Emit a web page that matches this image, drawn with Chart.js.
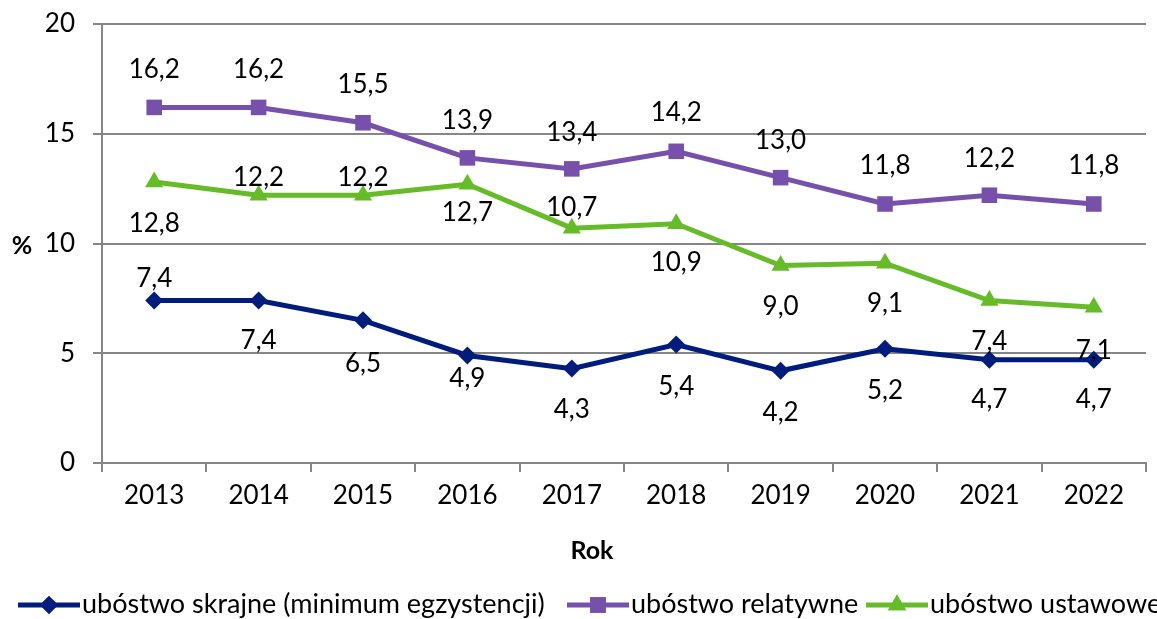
<!DOCTYPE html>
<html>
<head>
<meta charset="utf-8">
<script src="https://cdn.jsdelivr.net/npm/chart.js@4"></script>
<style>
  html, body { margin: 0; padding: 0; background: #fff; overflow: hidden; }
  #wrap { position: relative; width: 1157px; height: 619px; }
</style>
</head>
<body>
<div id="wrap"><canvas id="chart" width="1157" height="619"></canvas></div>
<script>
// ------------------------------------------------------------
// data
// ------------------------------------------------------------
const years = ['2013','2014','2015','2016','2017','2018','2019','2020','2021','2022'];
const skrajne = [7.4, 7.4, 6.5, 4.9, 4.3, 5.4, 4.2, 5.2, 4.7, 4.7];
const relatywne = [16.2, 16.2, 15.5, 13.9, 13.4, 14.2, 13.0, 11.8, 12.2, 11.8];
const ustawowe = [12.8, 12.2, 12.2, 12.7, 10.7, 10.9, 9.0, 9.1, 7.4, 7.1];
const yTicks = [0, 5, 10, 15, 20];

const seriesNames = ['ubóstwo skrajne (minimum egzystencji)', 'ubóstwo relatywne', 'ubóstwo ustawowe'];

// label placement (px from point centre, vertical)
const offSkrajne = [-22, 40, 43, 23, 41, 42, 42, 42, 40, 40];
const offRelatywne = [-38, -38, -38, -37, -36, -39, -37, -38, -37, -38];
const offUstawowe = [42, -18, -18, 28, -21, 39, 41, 40, 41, 43];

const FONT = 'Lato, "Open Sans", sans-serif';
const GRID = '#868686';
const BLUE = '#001c7c', PURPLE = '#7650ab', GREEN = '#66bb28';

const fmt = v => v.toFixed(1).replace('.', ',');

const valueLabels = {
  id: 'valueLabels',
  afterDatasetsDraw(chart) {
    const ctx = chart.ctx;
    ctx.save();
    ctx.font = '26px ' + FONT;
    ctx.fillStyle = '#000';
    ctx.textAlign = 'center';
    ctx.textBaseline = 'middle';
    chart.data.datasets.forEach((ds, i) => {
      chart.getDatasetMeta(i).data.forEach((pt, j) => {
        ctx.fillText(fmt(ds.data[j]), pt.x, pt.y + ds.labelOffsets[j]);
      });
    });
    ctx.restore();
  }
};

const extras = {
  id: 'extras',
  afterDraw(chart) {
    const ctx = chart.ctx;
    ctx.save();
    ctx.fillStyle = '#000';
    ctx.textBaseline = 'middle';
    ctx.font = 'bold 25px ' + FONT;
    ctx.textAlign = 'center';
    ctx.fillText('%', 22, 246);
    ctx.fillText('Rok', 592, 551);

    // legend
    const items = [
      { x: 18, color: BLUE, style: 'rectRot', r: 9 },
      { x: 567, color: PURPLE, style: 'rect', r: 11 },
      { x: 866, color: GREEN, style: 'triangle', r: 10.5 },
    ];
    const ly = 605;
    ctx.font = '27px ' + FONT;
    ctx.textAlign = 'left';
    items.forEach((it, i) => {
      ctx.strokeStyle = it.color;
      ctx.lineWidth = 5;
      ctx.beginPath();
      ctx.moveTo(it.x, ly);
      ctx.lineTo(it.x + 62, ly);
      ctx.stroke();
      ctx.fillStyle = it.color;
      Chart.helpers.drawPoint(ctx, { pointStyle: it.style, radius: it.r, rotation: 0, borderWidth: 0 }, it.x + 31, ly);
      ctx.fill();
      ctx.fillStyle = '#000';
      ctx.fillText(seriesNames[i], it.x + 64, ly - 1);
    });
    ctx.restore();
  }
};

function makeSet(label, data, color, style, radius, offsets) {
  return {
    label, data,
    borderColor: color, backgroundColor: color,
    pointBackgroundColor: color, pointBorderColor: color,
    pointStyle: style, pointRadius: radius, pointHoverRadius: radius,
    pointBorderWidth: 0,
    borderWidth: 5, tension: 0, fill: false,
    labelOffsets: offsets,
  };
}

new Chart(document.getElementById('chart'), {
  type: 'line',
  data: {
    labels: years,
    datasets: [
      makeSet(seriesNames[0], skrajne, BLUE, 'rectRot', 9, offSkrajne),
      makeSet(seriesNames[1], relatywne, PURPLE, 'rect', 11, offRelatywne),
      makeSet(seriesNames[2], ustawowe, GREEN, 'triangle', 10.5, offUstawowe),
    ]
  },
  options: {
    responsive: false,
    animation: false,
    layout: { padding: { left: 0, right: 5, top: 24, bottom: 0 } },
    plugins: { legend: { display: false }, tooltip: { enabled: false } },
    scales: {
      x: {
        offset: true,
        grid: { offset: true, drawOnChartArea: false, color: GRID, lineWidth: 2, tickLength: 9 },
        border: { color: GRID, width: 2 },
        ticks: { color: '#000', font: { family: FONT, size: 26 }, padding: 8, maxRotation: 0 },
        afterFit: s => { s.height = 156; s.paddingLeft = 0; s.paddingRight = 0; }
      },
      y: {
        min: 0, max: 20,
        afterBuildTicks: s => { s.ticks = yTicks.map(v => ({ value: v })); },
        grid: { color: GRID, lineWidth: 2, tickLength: 9 },
        border: { color: GRID, width: 2 },
        ticks: { color: '#000', font: { family: FONT, size: 26 }, padding: 18 },
        afterFit: s => { s.width = 102; s.paddingTop = 0; s.paddingBottom = 0; }
      }
    }
  },
  plugins: [valueLabels, extras]
});
</script>
</body>
</html>
